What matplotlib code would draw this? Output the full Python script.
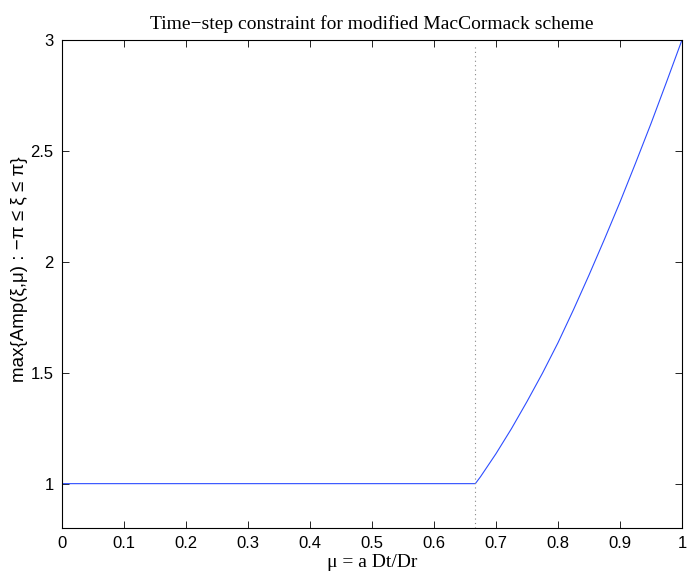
#!/usr/bin/env python3
# -*- coding: utf-8 -*-

"""
Time-step constraint for the modified MacCormack scheme
"""

import matplotlib
matplotlib.use('agg')
import matplotlib.pyplot as plt

plt.rcParams['font.family'] = ['Liberation Sans', 'DejaVu Sans']
plt.rcParams['axes.unicode_minus'] = True

# mu = a Dt/Dr and the max amplification factor
mu = [0.0, 0.6667, 0.675, 0.70, 0.725, 0.75, 0.775, 0.80, 0.825,
      0.85, 0.875, 0.90, 0.925, 0.95, 0.975, 1.0]
amp = [1.0, 1.0, 1.031, 1.135, 1.248, 1.370, 1.498, 1.635, 1.784,
       1.940, 2.102, 2.269, 2.444, 2.623, 2.810, 3.0]
mu_crit = 2.0 / 3.0

x_ticks = [0, 0.1, 0.2, 0.3, 0.4, 0.5, 0.6, 0.7, 0.8, 0.9, 1]
x_tick_labels = ['0', '0.1', '0.2', '0.3', '0.4', '0.5', '0.6', '0.7', '0.8', '0.9', '1']
y_ticks = [1, 1.5, 2, 2.5, 3]
y_tick_labels = ['1', '1.5', '2', '2.5', '3']

serif = ['Liberation Serif', 'DejaVu Serif']

fig = plt.figure(figsize=(6.92, 5.77), dpi=100)
ax = fig.add_axes([0.0896, 0.0849, 0.8959, 0.8458])

ax.plot(mu, amp, color='#2d4dff', linewidth=0.8)
ax.axvline(mu_crit, ymax=0.99, color='#888888', linestyle=(0, (1, 3)), linewidth=0.8)

ax.set_xlim(0, 1)
ax.set_ylim(0.8, 3)
ax.set_xticks(x_ticks)
ax.set_xticklabels(x_tick_labels)
ax.set_yticks(y_ticks)
ax.set_yticklabels(y_tick_labels)
ax.tick_params(direction='in', top=True, right=True, length=5, width=0.6, labelsize=12, pad=6)
for s in ax.spines.values():
    s.set_linewidth(0.8)

ax.set_title('Time\u2212step constraint for modified MacCormack scheme',
             fontsize=14, family=serif, pad=8)
ax.set_xlabel('\u03bc = a Dt/Dr', fontsize=14, family=serif, labelpad=2)
ax.set_ylabel('max{Amp(\u03be,\u03bc) : \u2212\u03c0 \u2264 \u03be \u2264 \u03c0}', fontsize=13.5)
ax.yaxis.set_label_coords(-0.055, 0.531)

fig.savefig('out.png', dpi=100)
plt.close(fig)
